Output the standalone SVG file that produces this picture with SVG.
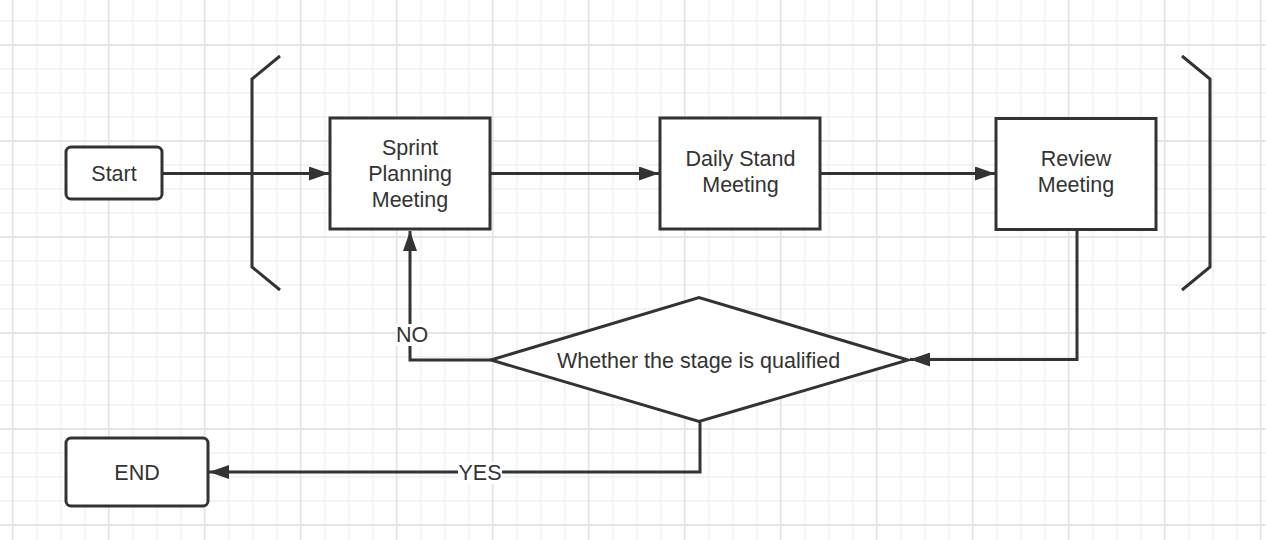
<svg xmlns="http://www.w3.org/2000/svg" width="1266" height="540" viewBox="0 0 1266 540">
  <defs>
    <pattern id="grid" patternUnits="userSpaceOnUse" x="-47.3" y="-15" width="96" height="96">
      <path d="M12,0 V96 M36,0 V96 M84,0 V96 M0,12 H96 M0,36 H96 M0,84 H96" stroke="#f1f1f1" stroke-width="1.5" fill="none"/>
      <path d="M60,0 V96 M0,60 H96" stroke="#e5e5e5" stroke-width="1.8" fill="none"/>
    </pattern>
    <marker id="arrow" viewBox="0 0 20 14" refX="20" refY="7" markerWidth="20" markerHeight="14" markerUnits="userSpaceOnUse" orient="auto">
      <path d="M0,0 L20,7 L0,14 z" fill="#333333"/>
    </marker>
    <style>
      .shape { fill: #ffffff; stroke: #333333; stroke-width: 3; }
      .bracket { fill: none; stroke: #333333; stroke-width: 3; }
      .conn { fill: none; stroke: #333333; stroke-width: 3; }
      .label { font-family: "Liberation Sans", Arial, sans-serif; font-size: 21.5px; fill: #333333; text-anchor: middle; }
      .lblbg { fill: #ffffff; }
    </style>
  </defs>
  <rect x="0" y="0" width="1266" height="540" fill="#ffffff"/>
  <rect x="0" y="0" width="1266" height="540" fill="url(#grid)"/>

  <g id="bracket-left">
    <path class="bracket" d="M280,56 L252,79 V267 L280,290"/>
  </g>
  <g id="bracket-right">
    <path class="bracket" d="M1182,56 L1210,79 V267 L1182,290"/>
  </g>

  <g id="connectors">
    <path class="conn" d="M162,173.5 H329" marker-end="url(#arrow)"/>
    <path class="conn" d="M490,173.5 H659" marker-end="url(#arrow)"/>
    <path class="conn" d="M820,173.5 H995" marker-end="url(#arrow)"/>
    <path class="conn" d="M1077,229.5 V359.5 H910" marker-end="url(#arrow)"/>
    <path class="conn" d="M491,360 H410 V231" marker-end="url(#arrow)"/>
    <path class="conn" d="M700,422 V472 H209" marker-end="url(#arrow)"/>
    <rect class="lblbg" x="396" y="324" width="32" height="22"/>
    <text class="label" x="412" y="342">NO</text>
    <rect class="lblbg" x="458" y="462" width="44" height="22"/>
    <text class="label" x="480" y="479.5">YES</text>
  </g>

  <g id="start">
    <rect class="shape" x="66" y="147" width="96" height="52" rx="5"/>
    <text class="label" x="114" y="181">Start</text>
  </g>
  <g id="sprint-planning">
    <rect class="shape" x="330" y="118" width="160" height="111"/>
    <text class="label" x="410" y="155">Sprint</text>
    <text class="label" x="410" y="181">Planning</text>
    <text class="label" x="410" y="207">Meeting</text>
  </g>
  <g id="daily-stand">
    <rect class="shape" x="660" y="118" width="160" height="111"/>
    <text class="label" x="740.5" y="166">Daily Stand</text>
    <text class="label" x="740.5" y="192">Meeting</text>
  </g>
  <g id="review">
    <rect class="shape" x="996" y="118.5" width="160" height="111"/>
    <text class="label" x="1076" y="166">Review</text>
    <text class="label" x="1076" y="192">Meeting</text>
  </g>
  <g id="decision">
    <polygon class="shape" points="491,360 699,297.5 908,360 699,421.5"/>
    <text class="label" x="698.5" y="368">Whether the stage is qualified</text>
  </g>
  <g id="end">
    <rect class="shape" x="66" y="438" width="142" height="68" rx="5"/>
    <text class="label" x="137" y="480">END</text>
  </g>
</svg>
